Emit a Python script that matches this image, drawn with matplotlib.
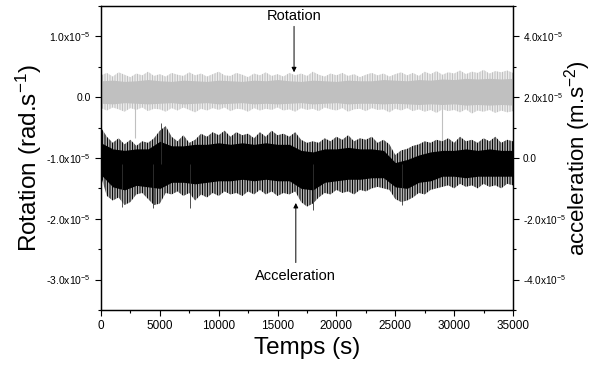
import numpy as np
import matplotlib
matplotlib.use("Agg")
import matplotlib.pyplot as plt

plt.rcParams['font.family'] = ['Liberation Sans', 'DejaVu Sans']
plt.rcParams['mathtext.fontset'] = 'custom'
plt.rcParams['mathtext.rm'] = 'Liberation Sans'
plt.rcParams['mathtext.it'] = 'Liberation Sans:italic'
plt.rcParams['hatch.linewidth'] = 0.7

# ---- données (unités de 1e-5) ----
# accélération (m.s-2) : enveloppe extérieure, pas de 500 s
t_fine = np.arange(0, 35001, 500)
acc_top = [1.0, 0.7, 0.5, 0.65, 0.45, 0.6, 0.4, 0.55, 0.5, 0.65,
           0.9, 1.05,
           0.7, 0.55, 0.75, 0.5, 0.6, 0.8,
           0.7, 0.85, 0.75, 0.9, 0.7, 0.85, 0.75, 0.8, 0.65, 0.85, 0.7, 0.9, 0.75, 0.8, 0.7, 0.85,
           0.6, 0.5, 0.55,
           0.5, 0.65, 0.55, 0.7, 0.6, 0.75, 0.55, 0.65, 0.6, 0.7, 0.5, 0.6, 0.45,
           0.1, 0.25, 0.3, 0.4,
           0.45, 0.55, 0.5, 0.6,
           0.55, 0.65, 0.5, 0.7, 0.55, 0.6, 0.5, 0.65, 0.55, 0.7, 0.5, 0.6, 0.55]
acc_bot = [-0.6, -1.25, -1.4, -1.3, -1.55, -1.45, -1.2, -1.15, -1.35, -1.55,
           -1.5, -1.15,
           -1.2, -1.1, -1.25, -1.15, -1.4, -1.2,
           -1.3, -1.15, -1.25, -1.1, -1.2, -1.15, -1.25, -1.1, -1.2, -1.05, -1.2, -1.1, -1.25, -1.15, -1.2, -1.1,
           -1.45, -1.6, -1.5,
           -1.3, -1.15, -1.2, -1.05, -1.15, -1.1, -1.2, -1.05, -1.1, -1.0, -0.95, -1.0, -1.05,
           -1.35, -1.45, -1.4, -1.3,
           -1.15, -1.2, -1.05, -1.0,
           -0.95, -0.9, -1.0, -0.85, -0.95, -0.9, -1.0, -0.85, -0.95, -0.9, -1.0, -0.85, -0.9]
# accélération : coeur plein, pas de 1000 s
t_coarse = np.arange(0, 35001, 1000)
acc_core_top = [0.5, 0.3, 0.25, 0.3, 0.3,
                0.55,
                0.4, 0.4, 0.45, 0.45, 0.5, 0.45, 0.5, 0.45, 0.5, 0.45, 0.45,
                0.25, 0.2,
                0.3, 0.3, 0.35, 0.3, 0.3, 0.25,
                -0.15, -0.05,
                0.1, 0.2,
                0.25, 0.25, 0.3, 0.25, 0.3, 0.25, 0.25]
acc_core_bot = [-0.55, -0.95, -1.05, -0.9, -0.95,
                -1.0,
                -0.8, -0.8, -0.85, -0.8, -0.75, -0.75, -0.7, -0.75, -0.7, -0.75, -0.75,
                -1.0, -1.05,
                -0.8, -0.75, -0.7, -0.7, -0.65, -0.65,
                -0.95, -1.0,
                -0.8, -0.75,
                -0.6, -0.6, -0.65, -0.6, -0.6, -0.6, -0.6]
acc_spike_t = [5100, 1780, 4400, 7560, 18000, 25600]
acc_spike_v = [1.15, -1.6, -1.65, -1.65, -1.7, -1.55]

# rotation (rad.s-1) : enveloppe extérieure, pas de 500 s
rot_top = [0.36, 0.4, 0.34, 0.41, 0.37, 0.33, 0.39, 0.36, 0.42, 0.35,
           0.38, 0.34, 0.4, 0.37, 0.35, 0.41, 0.36, 0.39, 0.34, 0.38,
           0.42, 0.36, 0.35, 0.4, 0.37, 0.33, 0.39, 0.36, 0.41, 0.35,
           0.38, 0.34, 0.4, 0.36, 0.39, 0.35, 0.42, 0.37, 0.34, 0.39,
           0.36, 0.4, 0.35, 0.38, 0.33, 0.37, 0.4, 0.36, 0.39, 0.34,
           0.38, 0.41, 0.36, 0.4, 0.35, 0.42, 0.38, 0.43, 0.37, 0.41,
           0.39, 0.44, 0.38, 0.42, 0.4, 0.45, 0.39, 0.43, 0.41, 0.44, 0.4]
rot_bot = [-0.18, -0.22, -0.17, -0.2, -0.24, -0.18, -0.21, -0.17, -0.23, -0.19,
           -0.2, -0.24, -0.18, -0.22, -0.17, -0.21, -0.25, -0.19, -0.22, -0.18,
           -0.21, -0.17, -0.23, -0.19, -0.2, -0.24, -0.18, -0.22, -0.19, -0.21,
           -0.17, -0.22, -0.2, -0.24, -0.18, -0.21, -0.19, -0.23, -0.17, -0.2,
           -0.22, -0.18, -0.24, -0.2, -0.19, -0.23, -0.18, -0.21, -0.2, -0.25,
           -0.19, -0.22, -0.18, -0.23, -0.2, -0.24, -0.21, -0.26, -0.2, -0.23,
           -0.21, -0.25, -0.2, -0.27, -0.22, -0.24, -0.21, -0.26, -0.22, -0.25, -0.23]
# rotation : coeur plein, pas de 1000 s
rot_core_top = [0.27, 0.28, 0.26, 0.27, 0.29, 0.27, 0.26, 0.28, 0.27, 0.26,
                0.28, 0.27, 0.26, 0.28, 0.27, 0.29, 0.27, 0.26, 0.28, 0.27,
                0.26, 0.28, 0.27, 0.27, 0.29, 0.28, 0.27, 0.29, 0.28, 0.3,
                0.29, 0.31, 0.3, 0.31, 0.3, 0.31]
rot_core_bot = [-0.1, -0.11, -0.09, -0.1, -0.11, -0.1, -0.09, -0.11, -0.1, -0.09,
                -0.11, -0.1, -0.09, -0.11, -0.1, -0.11, -0.1, -0.09, -0.11, -0.1,
                -0.09, -0.11, -0.1, -0.1, -0.11, -0.1, -0.11, -0.12, -0.11, -0.12,
                -0.11, -0.13, -0.12, -0.13, -0.12, -0.13]
rot_spike_t = [2900, 29000]
rot_spike_v = [-0.67, -0.8]

left_ticks = [1e-5, 0, -1e-5, -2e-5, -3e-5]
left_labels = ['1.0x10$^{-5}$', '0.0', '-1.0x10$^{-5}$', '-2.0x10$^{-5}$', '-3.0x10$^{-5}$']
right_ticks = [4e-5, 2e-5, 0, -2e-5, -4e-5]
right_labels = ['4.0x10$^{-5}$', '2.0x10$^{-5}$', '0.0', '-2.0x10$^{-5}$', '-4.0x10$^{-5}$']

sc = 1e-5
grey = '#c0c0c0'
dense = '|' * 10

fig = plt.figure(figsize=(5.93, 3.70), dpi=100)
ax = fig.add_axes([0.1703, 0.1622, 0.6948, 0.8216])
ax2 = ax.twinx()

# rotation (gris, axe de gauche) : frange hachurée + coeur plein
ax.fill_between(t_fine, np.array(rot_bot) * sc, np.array(rot_top) * sc,
                facecolor='none', edgecolor=grey, hatch=dense, lw=0)
ax.fill_between(t_coarse, np.array(rot_core_bot) * sc, np.array(rot_core_top) * sc,
                color=grey, lw=0)
ax.vlines(rot_spike_t, 0, np.array(rot_spike_v) * sc, color=grey, lw=0.8)

# accélération (noir, axe de droite)
ax2.fill_between(t_fine, np.array(acc_bot) * sc, np.array(acc_top) * sc,
                 facecolor='none', edgecolor='black', hatch=dense, lw=0)
ax2.fill_between(t_coarse, np.array(acc_core_bot) * sc, np.array(acc_core_top) * sc,
                 color='black', lw=0)
ax2.vlines(acc_spike_t, -0.2 * sc, np.array(acc_spike_v) * sc, color='#333333', lw=0.6)

ax.set_xlim(0, 35000)
ax.set_ylim(-3.5e-5, 1.5e-5)
ax2.set_ylim(-5e-5, 5e-5)

ax.set_xticks(np.arange(0, 35001, 5000))
ax.set_xticks(np.arange(2500, 35000, 5000), minor=True)
ax.set_yticks(left_ticks)
ax.set_yticklabels(left_labels)
ax.set_yticks(np.arange(-3.5e-5, 1.51e-5, 0.5e-5), minor=True)
ax2.set_yticks(right_ticks)
ax2.set_yticklabels(right_labels)
ax2.set_yticks(np.arange(-5e-5, 5.01e-5, 1e-5), minor=True)

for a in (ax, ax2):
    a.tick_params(which='major', direction='out', length=4, width=0.8, labelsize=7.5)
    a.tick_params(which='minor', direction='out', length=2.5, width=0.8)
    for s in a.spines.values():
        s.set_linewidth(0.9)
ax.tick_params(axis='x', labelsize=8.5)
ax.tick_params(axis='y', right=False, which='both')
ax2.tick_params(axis='y', labelsize=7.2, pad=3)

ax.set_xlabel('Temps (s)', fontsize=17.5, labelpad=3)
ax.set_ylabel('Rotation (rad.s$^{-1}$)', fontsize=17.5, labelpad=1)
ax2.set_ylabel('acceleration (m.s$^{-2}$)', fontsize=16, labelpad=-3)

# annotations
ax.annotate('', xy=(16400, 0.41e-5), xytext=(16400, 1.165e-5),
            arrowprops=dict(arrowstyle='-|>', color='black', lw=0.7,
                            mutation_scale=7, shrinkA=0, shrinkB=0))
ax.text(16400, 1.33e-5, 'Rotation', ha='center', va='center', fontsize=10.5)
ax.annotate('', xy=(16550, -1.74e-5), xytext=(16550, -2.72e-5),
            arrowprops=dict(arrowstyle='-|>', color='black', lw=0.7,
                            mutation_scale=7, shrinkA=0, shrinkB=0))
ax.text(16550, -2.94e-5, 'Acceleration', ha='center', va='center', fontsize=10.5)

fig.savefig('out.png', dpi=100)
